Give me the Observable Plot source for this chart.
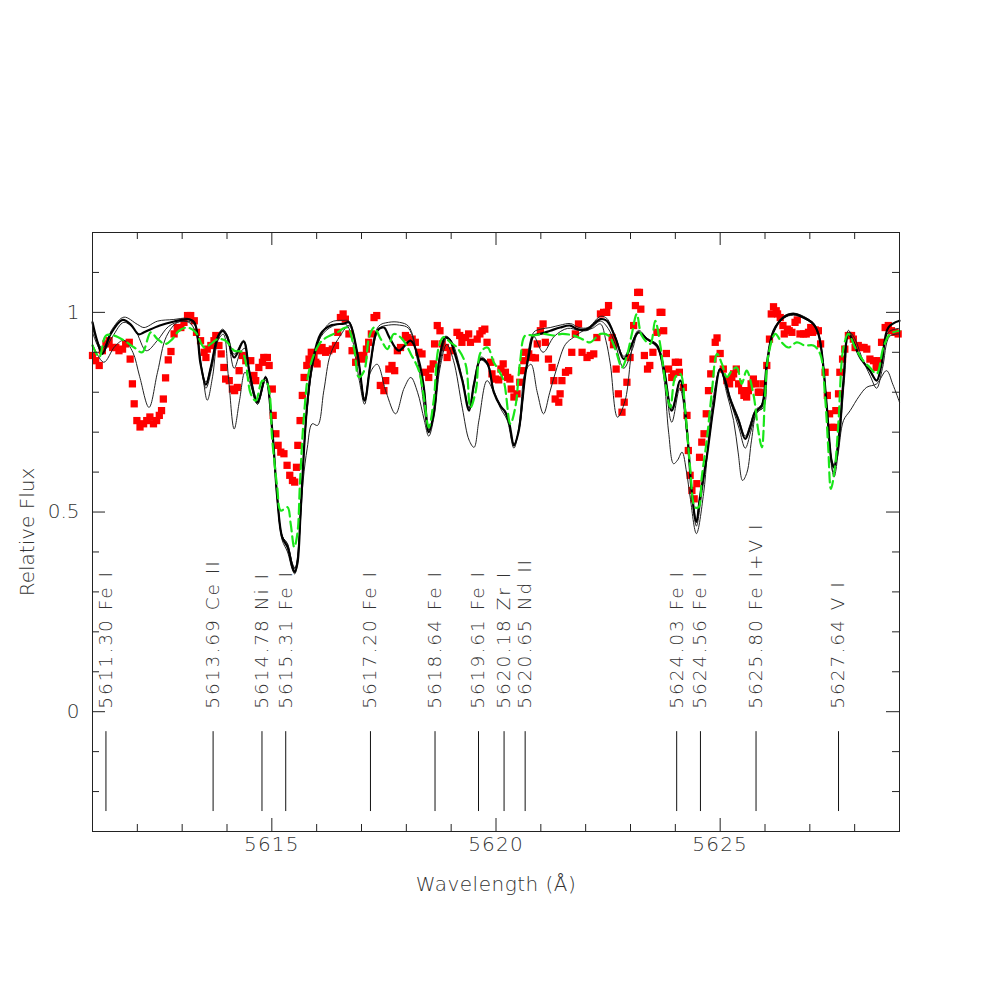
<!DOCTYPE html>
<html>
<head>
<meta charset="utf-8">
<script src="https://cdn.jsdelivr.net/npm/d3@7"></script>
<script src="https://cdn.jsdelivr.net/npm/@observablehq/plot@0.6"></script>
<style>
  html, body { margin: 0; padding: 0; background: #fff; }
</style>
</head>
<body>
<div id="chart"></div>
<script>
// ---- axis ticks ----
const xMajorTicks = [5615, 5620, 5625];
const xMinorTicks = [5612, 5613, 5614, 5616, 5617, 5618, 5619, 5621, 5622, 5623, 5624, 5626, 5627, 5628];
const yMajorTicks = [0, 0.5, 1];
const yMinorTicks = [-0.2, -0.1, 0.1, 0.2, 0.3, 0.4, 0.6, 0.7, 0.8, 0.9, 1.1];

// ---- line identifications ----
const lineWavelengths = [5611.30, 5613.69, 5614.78, 5615.31, 5617.20, 5618.64, 5619.61, 5620.18, 5620.65, 5624.03, 5624.56, 5625.80, 5627.64];
const lineNames = ["5611.30 Fe I", "5613.69 Ce II", "5614.78 Ni I", "5615.31 Fe I", "5617.20 Fe I", "5618.64 Fe I", "5619.61 Fe I", "5620.18 Zr I", "5620.65 Nd II", "5624.03 Fe I", "5624.56 Fe I", "5625.80 Fe I+V I", "5627.64 V I"];
const markerTop = -0.05, markerBottom = -0.25;

// ---- observed spectrum (red squares) [wavelength, flux] ----
const observed = [
[5611.00,0.892],[5611.07,0.879],[5611.15,0.867],[5611.22,0.904],[5611.30,0.921],[5611.37,0.929],[5611.45,0.912],[5611.52,0.912],[5611.59,0.904],[5611.67,0.908],[5611.74,0.921],[5611.82,0.925],[5611.84,0.883],[5611.89,0.821],[5611.93,0.771],[5611.99,0.729],[5612.06,0.713],[5612.14,0.721],[5612.21,0.729],[5612.28,0.738],[5612.36,0.721],[5612.43,0.729],[5612.49,0.742],[5612.54,0.754],[5612.58,0.783],[5612.63,0.836],[5612.69,0.881],[5612.75,0.902],[5612.82,0.946],[5612.89,0.962],[5612.97,0.962],[5613.04,0.975],[5613.12,0.992],[5613.19,0.992],[5613.27,0.979],[5613.32,0.950],[5613.41,0.929],[5613.49,0.900],[5613.53,0.887],[5613.56,0.908],[5613.64,0.917],[5613.71,0.929],[5613.75,0.942],[5613.82,0.917],[5613.87,0.896],[5613.93,0.862],[5613.97,0.833],[5614.05,0.829],[5614.12,0.808],[5614.17,0.804],[5614.23,0.812],[5614.27,0.854],[5614.34,0.892],[5614.42,0.879],[5614.53,0.879],[5614.60,0.842],[5614.64,0.829],[5614.71,0.862],[5614.79,0.875],[5614.82,0.887],[5614.90,0.887],[5614.94,0.867],[5615.01,0.808],[5615.03,0.742],[5615.09,0.696],[5615.14,0.667],[5615.20,0.650],[5615.27,0.646],[5615.34,0.617],[5615.40,0.592],[5615.46,0.579],[5615.51,0.575],[5615.55,0.612],[5615.58,0.667],[5615.63,0.729],[5615.68,0.792],[5615.72,0.837],[5615.78,0.867],[5615.83,0.883],[5615.88,0.900],[5615.94,0.887],[5615.98,0.875],[5616.01,0.871],[5616.05,0.904],[5616.12,0.912],[5616.20,0.900],[5616.27,0.904],[5616.35,0.908],[5616.42,0.917],[5616.47,0.950],[5616.53,0.987],[5616.59,0.996],[5616.64,0.983],[5616.72,0.946],[5616.79,0.904],[5616.87,0.875],[5616.94,0.892],[5617.02,0.883],[5617.05,0.892],[5617.11,0.908],[5617.16,0.925],[5617.22,0.946],[5617.28,0.987],[5617.34,0.992],[5617.42,0.817],[5617.50,0.804],[5617.54,0.829],[5617.61,0.858],[5617.68,0.867],[5617.74,0.854],[5617.80,0.904],[5617.87,0.912],[5617.98,0.942],[5618.02,0.937],[5618.08,0.925],[5618.13,0.933],[5618.20,0.925],[5618.28,0.900],[5618.35,0.896],[5618.43,0.850],[5618.50,0.837],[5618.54,0.858],[5618.60,0.871],[5618.63,0.921],[5618.69,0.967],[5618.75,0.954],[5618.80,0.921],[5618.87,0.912],[5618.91,0.887],[5618.98,0.904],[5619.13,0.950],[5619.19,0.942],[5619.24,0.925],[5619.32,0.937],[5619.39,0.946],[5619.43,0.925],[5619.58,0.933],[5619.64,0.946],[5619.69,0.954],[5619.75,0.958],[5619.80,0.925],[5619.88,0.875],[5619.91,0.846],[5619.99,0.833],[5620.06,0.831],[5620.11,0.858],[5620.16,0.871],[5620.21,0.850],[5620.26,0.837],[5620.31,0.833],[5620.34,0.808],[5620.40,0.788],[5620.47,0.796],[5620.53,0.825],[5620.58,0.854],[5620.62,0.879],[5620.65,0.900],[5620.73,0.896],[5620.80,0.887],[5620.88,0.886],[5620.92,0.921],[5620.99,0.954],[5621.05,0.971],[5621.10,0.925],[5621.17,0.883],[5621.25,0.862],[5621.29,0.829],[5621.32,0.783],[5621.40,0.775],[5621.43,0.796],[5621.47,0.829],[5621.55,0.850],[5621.62,0.854],[5621.69,0.900],[5621.77,0.946],[5621.84,0.971],[5621.92,0.900],[5622.03,0.887],[5622.10,0.892],[5622.18,0.896],[5622.25,0.937],[5622.33,0.996],[5622.40,1.000],[5622.47,1.000],[5622.51,1.017],[5622.59,0.937],[5622.62,0.919],[5622.68,0.858],[5622.73,0.796],[5622.81,0.750],[5622.86,0.775],[5622.92,0.825],[5622.99,0.887],[5623.07,0.967],[5623.11,1.017],[5623.16,1.050],[5623.20,1.050],[5623.23,1.008],[5623.31,0.892],[5623.38,0.858],[5623.43,0.867],[5623.50,0.900],[5623.59,0.950],[5623.66,1.000],[5623.70,1.000],[5623.74,0.954],[5623.80,0.897],[5623.85,0.858],[5623.92,0.837],[5623.96,0.846],[5624.00,0.875],[5624.07,0.875],[5624.09,0.850],[5624.18,0.812],[5624.26,0.742],[5624.29,0.654],[5624.33,0.592],[5624.37,0.554],[5624.42,0.533],[5624.48,0.571],[5624.54,0.637],[5624.59,0.675],[5624.64,0.696],[5624.69,0.746],[5624.74,0.804],[5624.79,0.846],[5624.84,0.883],[5624.89,0.925],[5624.93,0.936],[5625.00,0.897],[5625.07,0.858],[5625.15,0.829],[5625.21,0.821],[5625.26,0.837],[5625.30,0.846],[5625.36,0.858],[5625.41,0.821],[5625.48,0.804],[5625.53,0.792],[5625.59,0.788],[5625.63,0.804],[5625.69,0.821],[5625.74,0.833],[5625.80,0.821],[5625.85,0.800],[5625.89,0.800],[5625.96,0.821],[5626.04,0.867],[5626.10,0.933],[5626.14,0.996],[5626.19,1.014],[5626.25,1.004],[5626.28,0.996],[5626.34,0.987],[5626.40,0.967],[5626.43,0.946],[5626.50,0.958],[5626.54,0.954],[5626.60,0.950],[5626.67,0.975],[5626.72,0.981],[5626.78,0.946],[5626.86,0.946],[5626.92,0.946],[5626.97,0.950],[5627.02,0.962],[5627.06,0.950],[5627.12,0.956],[5627.19,0.954],[5627.24,0.921],[5627.34,0.850],[5627.39,0.792],[5627.44,0.746],[5627.49,0.712],[5627.54,0.712],[5627.58,0.754],[5627.64,0.796],[5627.67,0.850],[5627.73,0.883],[5627.78,0.908],[5627.86,0.942],[5627.93,0.942],[5627.97,0.933],[5628.01,0.912],[5628.04,0.912],[5628.08,0.917],[5628.16,0.912],[5628.21,0.912],[5628.27,0.908],[5628.34,0.883],[5628.42,0.879],[5628.48,0.862],[5628.53,0.879],[5628.60,0.925],[5628.68,0.962],[5628.75,0.967],[5628.82,0.954],[5628.90,0.950],[5628.97,0.946]
];

// ---- synthetic spectra (black) [wavelength, flux] ----
const modelBest = [
[5611.00,0.975],[5611.10,0.93],[5611.22,0.896],[5611.40,0.945],[5611.67,0.981],[5611.85,0.97],[5612.03,0.945],[5612.15,0.95],[5612.50,0.967],[5612.82,0.977],[5613.12,0.983],[5613.27,0.975],[5613.41,0.871],[5613.53,0.819],[5613.64,0.863],[5613.79,0.937],[5613.90,0.954],[5614.00,0.94],[5614.16,0.887],[5614.37,0.927],[5614.50,0.85],[5614.68,0.775],[5614.86,0.837],[5615.01,0.704],[5615.12,0.537],[5615.23,0.437],[5615.35,0.412],[5615.46,0.362],[5615.51,0.35],[5615.57,0.371],[5615.64,0.496],[5615.72,0.662],[5615.79,0.771],[5615.90,0.871],[5616.09,0.946],[5616.31,0.967],[5616.61,0.972],[5616.72,0.975],[5616.91,0.896],[5617.07,0.779],[5617.20,0.871],[5617.35,0.954],[5617.50,0.962],[5617.61,0.94],[5617.83,0.904],[5618.10,0.929],[5618.28,0.879],[5618.39,0.812],[5618.50,0.70],[5618.61,0.746],[5618.72,0.871],[5618.87,0.937],[5618.98,0.929],[5619.06,0.904],[5619.25,0.829],[5619.40,0.754],[5619.51,0.821],[5619.66,0.883],[5619.81,0.871],[5619.95,0.80],[5620.10,0.765],[5620.20,0.752],[5620.30,0.72],[5620.40,0.667],[5620.50,0.70],[5620.58,0.77],[5620.66,0.85],[5620.73,0.89],[5620.84,0.942],[5620.99,0.946],[5621.21,0.954],[5621.43,0.962],[5621.66,0.967],[5621.81,0.958],[5622.03,0.958],[5622.33,0.983],[5622.47,0.979],[5622.66,0.937],[5622.85,0.883],[5623.00,0.912],[5623.18,0.95],[5623.37,0.933],[5623.59,0.917],[5623.74,0.862],[5623.92,0.754],[5624.11,0.829],[5624.26,0.704],[5624.37,0.546],[5624.47,0.475],[5624.55,0.538],[5624.70,0.637],[5624.85,0.762],[5625.00,0.858],[5625.11,0.829],[5625.22,0.783],[5625.41,0.729],[5625.56,0.683],[5625.67,0.712],[5625.78,0.75],[5625.93,0.767],[5626.04,0.871],[5626.19,0.954],[5626.41,0.987],[5626.63,0.996],[5626.86,0.987],[5627.08,0.971],[5627.19,0.946],[5627.27,0.896],[5627.38,0.762],[5627.49,0.625],[5627.54,0.612],[5627.64,0.679],[5627.75,0.829],[5627.86,0.946],[5627.97,0.925],[5628.12,0.887],[5628.34,0.854],[5628.49,0.829],[5628.60,0.871],[5628.75,0.962],[5629.00,0.979]
];
const modelStrong = [
[5611.00,0.92],[5611.25,0.875],[5611.50,0.915],[5611.70,0.93],[5611.90,0.90],[5612.05,0.84],[5612.26,0.762],[5612.45,0.85],[5612.65,0.94],[5612.90,0.975],[5613.15,0.975],[5613.30,0.95],[5613.45,0.85],[5613.56,0.78],[5613.68,0.84],[5613.80,0.93],[5613.92,0.945],[5614.03,0.84],[5614.16,0.708],[5614.28,0.78],[5614.40,0.85],[5614.52,0.82],[5614.68,0.77],[5614.86,0.83],[5615.01,0.70],[5615.12,0.53],[5615.23,0.43],[5615.35,0.40],[5615.46,0.355],[5615.51,0.345],[5615.57,0.37],[5615.64,0.49],[5615.72,0.66],[5615.80,0.77],[5615.92,0.87],[5616.10,0.94],[5616.35,0.965],[5616.65,0.97],[5616.80,0.93],[5616.95,0.83],[5617.07,0.77],[5617.20,0.85],[5617.35,0.87],[5617.55,0.80],[5617.76,0.746],[5617.95,0.81],[5618.10,0.837],[5618.25,0.80],[5618.40,0.73],[5618.50,0.69],[5618.62,0.74],[5618.75,0.86],[5618.90,0.92],[5619.05,0.88],[5619.25,0.76],[5619.40,0.68],[5619.51,0.662],[5619.62,0.73],[5619.80,0.829],[5619.95,0.80],[5620.10,0.76],[5620.25,0.73],[5620.40,0.66],[5620.52,0.72],[5620.65,0.85],[5620.78,0.87],[5620.92,0.80],[5621.06,0.746],[5621.20,0.80],[5621.36,0.862],[5621.55,0.92],[5621.73,0.9375],[5621.95,0.954],[5622.15,0.96],[5622.33,0.971],[5622.45,0.93],[5622.55,0.871],[5622.71,0.7375],[5622.88,0.779],[5623.07,0.929],[5623.18,0.95],[5623.40,0.93],[5623.59,0.912],[5623.74,0.84],[5623.85,0.70],[5623.96,0.621],[5624.05,0.63],[5624.15,0.65],[5624.25,0.60],[5624.33,0.5375],[5624.47,0.446],[5624.63,0.546],[5624.80,0.75],[5625.00,0.858],[5625.15,0.796],[5625.30,0.729],[5625.40,0.65],[5625.50,0.579],[5625.60,0.60],[5625.70,0.68],[5625.82,0.75],[5625.97,0.762],[5626.06,0.87],[5626.20,0.95],[5626.41,0.985],[5626.63,0.993],[5626.86,0.985],[5627.08,0.968],[5627.20,0.94],[5627.30,0.86],[5627.42,0.70],[5627.54,0.5875],[5627.66,0.68],[5627.77,0.83],[5627.88,0.95],[5628.00,0.935],[5628.15,0.89],[5628.35,0.84],[5628.49,0.81],[5628.62,0.86],[5628.78,0.94],[5629.00,0.946]
];
const modelShoulder = [
[5611.00,0.95],[5611.22,0.90],[5611.45,0.94],[5611.70,0.975],[5611.95,0.955],[5612.20,0.904],[5612.45,0.93],[5612.70,0.965],[5613.00,0.978],[5613.27,0.97],[5613.41,0.87],[5613.53,0.81],[5613.66,0.86],[5613.80,0.935],[5613.92,0.952],[5614.02,0.93],[5614.16,0.86],[5614.30,0.90],[5614.40,0.91],[5614.52,0.83],[5614.68,0.77],[5614.86,0.835],[5615.01,0.70],[5615.12,0.54],[5615.23,0.44],[5615.35,0.42],[5615.46,0.37],[5615.52,0.36],[5615.60,0.42],[5615.70,0.58],[5615.79,0.66],[5615.90,0.721],[5616.02,0.717],[5616.16,0.804],[5616.31,0.896],[5616.53,0.942],[5616.72,0.967],[5616.91,0.89],[5617.07,0.785],[5617.20,0.87],[5617.40,0.96],[5617.60,0.968],[5617.85,0.968],[5618.05,0.96],[5618.25,0.88],[5618.50,0.705],[5618.62,0.75],[5618.75,0.87],[5618.90,0.935],[5619.05,0.91],[5619.25,0.83],[5619.40,0.76],[5619.52,0.82],[5619.66,0.88],[5619.81,0.868],[5619.95,0.80],[5620.10,0.765],[5620.25,0.74],[5620.40,0.67],[5620.52,0.71],[5620.66,0.85],[5620.84,0.94],[5621.05,0.90],[5621.30,0.94],[5621.60,0.96],[5621.85,0.955],[5622.05,0.955],[5622.33,0.978],[5622.50,0.96],[5622.66,0.92],[5622.85,0.86],[5623.05,0.91],[5623.18,0.95],[5623.40,0.93],[5623.60,0.915],[5623.74,0.86],[5623.92,0.725],[5624.10,0.81],[5624.26,0.69],[5624.37,0.54],[5624.47,0.465],[5624.57,0.53],[5624.70,0.635],[5624.85,0.76],[5625.00,0.858],[5625.12,0.82],[5625.25,0.77],[5625.42,0.71],[5625.56,0.66],[5625.68,0.70],[5625.80,0.745],[5625.95,0.765],[5626.04,0.87],[5626.20,0.953],[5626.41,0.985],[5626.63,0.995],[5626.86,0.986],[5627.08,0.97],[5627.20,0.944],[5627.30,0.87],[5627.42,0.70],[5627.52,0.60],[5627.62,0.64],[5627.75,0.729],[5627.90,0.754],[5628.10,0.79],[5628.27,0.8125],[5628.49,0.821],[5628.71,0.854],[5628.85,0.82],[5629.00,0.775]
];
const modelWeak = [
[5611.00,0.96],[5611.22,0.91],[5611.45,0.96],[5611.70,0.988],[5612.00,0.97],[5612.15,0.962],[5612.45,0.978],[5612.80,0.982],[5613.12,0.985],[5613.27,0.975],[5613.41,0.875],[5613.53,0.825],[5613.64,0.865],[5613.79,0.94],[5613.90,0.958],[5614.00,0.945],[5614.16,0.895],[5614.37,0.93],[5614.50,0.855],[5614.68,0.78],[5614.86,0.84],[5615.01,0.71],[5615.12,0.54],[5615.23,0.44],[5615.35,0.42],[5615.46,0.37],[5615.51,0.358],[5615.57,0.38],[5615.64,0.50],[5615.72,0.66],[5615.79,0.76],[5615.90,0.86],[5616.09,0.94],[5616.31,0.975],[5616.61,0.98],[5616.72,0.978],[5616.91,0.898],[5617.07,0.782],[5617.20,0.875],[5617.38,0.965],[5617.60,0.975],[5617.85,0.975],[5618.05,0.965],[5618.25,0.89],[5618.39,0.815],[5618.50,0.705],[5618.61,0.75],[5618.72,0.875],[5618.87,0.94],[5619.00,0.93],[5619.25,0.835],[5619.40,0.76],[5619.51,0.825],[5619.66,0.888],[5619.81,0.875],[5619.95,0.805],[5620.10,0.768],[5620.25,0.74],[5620.40,0.67],[5620.52,0.71],[5620.66,0.85],[5620.84,0.95],[5621.00,0.958],[5621.21,0.962],[5621.43,0.968],[5621.66,0.972],[5621.85,0.962],[5622.05,0.962],[5622.33,0.99],[5622.47,0.985],[5622.66,0.94],[5622.85,0.89],[5623.00,0.915],[5623.18,0.955],[5623.37,0.935],[5623.59,0.92],[5623.74,0.865],[5623.92,0.76],[5624.11,0.83],[5624.26,0.71],[5624.37,0.55],[5624.47,0.48],[5624.55,0.54],[5624.70,0.64],[5624.85,0.765],[5625.00,0.86],[5625.11,0.835],[5625.22,0.79],[5625.41,0.735],[5625.56,0.69],[5625.67,0.72],[5625.78,0.755],[5625.93,0.77],[5626.04,0.873],[5626.19,0.955],[5626.41,0.99],[5626.63,0.998],[5626.86,0.99],[5627.08,0.973],[5627.19,0.95],[5627.27,0.90],[5627.38,0.765],[5627.49,0.63],[5627.54,0.618],[5627.64,0.685],[5627.75,0.83],[5627.86,0.955],[5627.97,0.93],[5628.12,0.89],[5628.34,0.855],[5628.49,0.83],[5628.60,0.87],[5628.75,0.95],[5629.00,0.96]
];

// ---- alternative synthetic spectrum (green dashed) [wavelength, flux] ----
const modelGreen = [
[5611.00,0.917],[5611.15,0.888],[5611.30,0.942],[5611.48,0.942],[5611.71,0.929],[5611.93,0.912],[5612.11,0.90],[5612.30,0.95],[5612.45,0.933],[5612.63,0.921],[5612.78,0.933],[5612.93,0.954],[5613.12,0.962],[5613.30,0.95],[5613.49,0.912],[5613.64,0.921],[5613.79,0.933],[5613.97,0.929],[5614.16,0.904],[5614.34,0.90],[5614.53,0.796],[5614.64,0.779],[5614.79,0.829],[5614.90,0.821],[5615.01,0.679],[5615.12,0.562],[5615.20,0.504],[5615.35,0.512],[5615.42,0.471],[5615.50,0.412],[5615.57,0.446],[5615.63,0.579],[5615.72,0.746],[5615.83,0.854],[5616.01,0.912],[5616.16,0.933],[5616.46,0.95],[5616.68,0.962],[5616.83,0.912],[5616.94,0.838],[5617.06,0.854],[5617.17,0.938],[5617.28,0.962],[5617.43,0.933],[5617.58,0.908],[5617.72,0.946],[5617.91,0.933],[5618.10,0.896],[5618.28,0.854],[5618.39,0.788],[5618.50,0.712],[5618.61,0.779],[5618.72,0.912],[5618.83,0.938],[5618.98,0.925],[5619.13,0.912],[5619.32,0.871],[5619.43,0.762],[5619.55,0.804],[5619.66,0.90],[5619.81,0.912],[5619.95,0.875],[5620.02,0.862],[5620.17,0.829],[5620.32,0.721],[5620.43,0.762],[5620.54,0.879],[5620.65,0.942],[5620.84,0.942],[5621.06,0.946],[5621.29,0.942],[5621.47,0.946],[5621.73,0.942],[5621.92,0.933],[5622.10,0.925],[5622.33,0.946],[5622.51,0.942],[5622.66,0.908],[5622.81,0.862],[5622.92,0.892],[5623.03,0.946],[5623.14,0.996],[5623.25,0.942],[5623.44,0.921],[5623.55,0.979],[5623.66,0.921],[5623.77,0.829],[5623.89,0.762],[5624.00,0.838],[5624.11,0.846],[5624.22,0.754],[5624.33,0.612],[5624.44,0.512],[5624.52,0.512],[5624.59,0.588],[5624.70,0.679],[5624.81,0.796],[5624.93,0.896],[5625.04,0.871],[5625.15,0.838],[5625.26,0.854],[5625.37,0.862],[5625.48,0.821],[5625.59,0.854],[5625.74,0.796],[5625.85,0.704],[5625.93,0.662],[5626.00,0.788],[5626.08,0.896],[5626.23,0.946],[5626.37,0.925],[5626.52,0.912],[5626.71,0.925],[5626.89,0.917],[5627.08,0.917],[5627.23,0.896],[5627.34,0.788],[5627.41,0.662],[5627.47,0.558],[5627.56,0.612],[5627.64,0.729],[5627.75,0.912],[5627.86,0.946],[5628.01,0.912],[5628.19,0.879],[5628.34,0.862],[5628.49,0.846],[5628.64,0.912],[5628.79,0.946],[5629.00,0.954]
];

// ---- layout ----
const W = 981, H = 981;
const mL = 92, mR = 82, mT = 232, mB = 150;
const frameW = W - mL - mR, frameH = H - mT - mB;
const majorLen = 13, minorLen = 7;
const font = "'DejaVu Sans', 'Liberation Sans', sans-serif";
const ink = "#333";

const labelRows = lineWavelengths.map((w, i) => ({w, name: lineNames[i]}));
const thin = {x: d => d[0], y: d => d[1], curve: "catmull-rom", stroke: "#222", strokeWidth: 1};

const chart = Plot.plot({
  width: W, height: H,
  marginLeft: mL, marginRight: mR, marginTop: mT, marginBottom: mB,
  x: {domain: [5611, 5629], axis: null},
  y: {domain: [-0.3, 1.2], axis: null},
  style: {fontFamily: font, fontWeight: 200, color: ink, background: "white", overflow: "visible"},
  marks: [
    // observed
    Plot.dot(observed, {x: d => d[0], y: d => d[1], symbol: "square", r: 4.1, fill: "#ff0000", stroke: "none"}),
    // synthetic spectra
    Plot.line(modelStrong, thin),
    Plot.line(modelShoulder, thin),
    Plot.line(modelWeak, thin),
    Plot.line(modelBest, {x: d => d[0], y: d => d[1], curve: "catmull-rom", stroke: "#000", strokeWidth: 2.2}),
    Plot.line(modelGreen, {x: d => d[0], y: d => d[1], curve: "catmull-rom", stroke: "#19e619", strokeWidth: 2.2, strokeDasharray: "10,5"}),
    // line identifications
    Plot.ruleX(lineWavelengths, {x: d => d, y1: markerTop, y2: markerBottom, stroke: "#111", strokeWidth: 1}),
    Plot.text(labelRows, {x: "w", y: 0, text: "name", rotate: -90, textAnchor: "start", dy: -3, fontSize: 18.5, fill: ink}),
    // frame + inward ticks on all sides
    Plot.frame({stroke: "#222", strokeWidth: 1}),
    Plot.tickX(xMajorTicks, {x: d => d, insetTop: frameH - majorLen, stroke: "#222"}),
    Plot.tickX(xMinorTicks, {x: d => d, insetTop: frameH - minorLen, stroke: "#222"}),
    Plot.tickX(xMajorTicks, {x: d => d, insetBottom: frameH - majorLen, stroke: "#222"}),
    Plot.tickX(xMinorTicks, {x: d => d, insetBottom: frameH - minorLen, stroke: "#222"}),
    Plot.tickY(yMajorTicks, {y: d => d, insetRight: frameW - majorLen, stroke: "#222"}),
    Plot.tickY(yMinorTicks, {y: d => d, insetRight: frameW - minorLen, stroke: "#222"}),
    Plot.tickY(yMajorTicks, {y: d => d, insetLeft: frameW - majorLen, stroke: "#222"}),
    Plot.tickY(yMinorTicks, {y: d => d, insetLeft: frameW - minorLen, stroke: "#222"}),
    // tick labels
    Plot.axisX(xMajorTicks, {anchor: "bottom", tickSize: 0, tickPadding: 5, tickFormat: d => String(d), fontSize: 20, label: null}),
    Plot.axisY(yMajorTicks, {anchor: "left", tickSize: 0, tickPadding: 13, tickFormat: d => String(d), fontSize: 20, label: null}),
    // axis titles
    Plot.text(["Wavelength (Å)"], {text: d => d, frameAnchor: "bottom", textAnchor: "middle", dy: 59, fontSize: 20, fill: ink}),
    Plot.text(["Relative Flux"], {text: d => d, frameAnchor: "left", textAnchor: "middle", lineAnchor: "middle", rotate: -90, dx: -65, fontSize: 20, fill: ink})
  ]
});

document.getElementById("chart").appendChild(chart);
// Hershey-like wide spacing for the text
const allText = d3.select(chart).selectAll("text");
allText.filter(function() { return lineNames.includes(this.textContent); }).attr("letter-spacing", "2px");
allText.filter(function() { return xMajorTicks.map(String).includes(this.textContent); }).attr("letter-spacing", "1.2px");
allText.filter(function() { return this.textContent === "Wavelength (Å)"; }).attr("letter-spacing", "0.5px");
</script>
</body>
</html>
